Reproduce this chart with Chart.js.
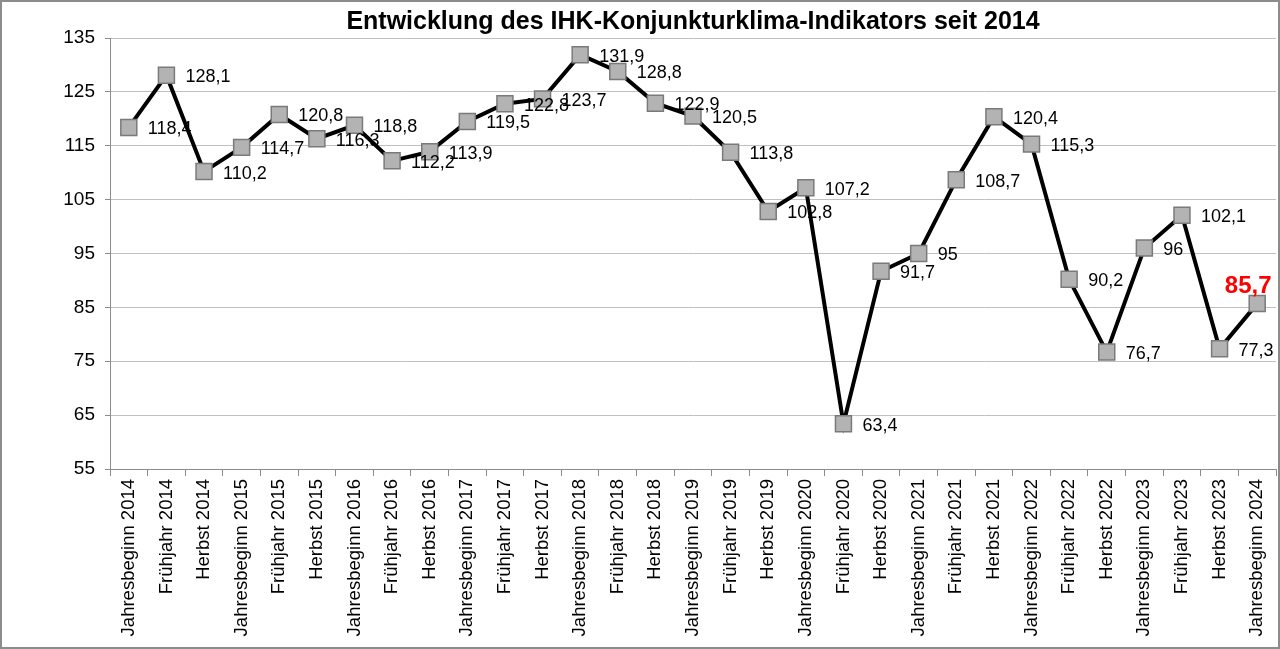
<!DOCTYPE html>
<html><head><meta charset="utf-8">
<script src="https://cdn.jsdelivr.net/npm/chart.js@4/dist/chart.umd.min.js"></script>
<style>html,body{margin:0;padding:0;background:#fff}#w{width:1280px;height:649px}</style>
</head><body><div id="w"><canvas id="c" width="1280" height="649"></canvas></div>
<script>
const title = 'Entwicklung des IHK-Konjunkturklima-Indikators seit 2014';
const categories = ['Jahresbeginn 2014','Frühjahr 2014','Herbst 2014','Jahresbeginn 2015','Frühjahr 2015','Herbst 2015','Jahresbeginn 2016','Frühjahr 2016','Herbst 2016','Jahresbeginn 2017','Frühjahr 2017','Herbst 2017','Jahresbeginn 2018','Frühjahr 2018','Herbst 2018','Jahresbeginn 2019','Frühjahr 2019','Herbst 2019','Jahresbeginn 2020','Frühjahr 2020','Herbst 2020','Jahresbeginn 2021','Frühjahr 2021','Herbst 2021','Jahresbeginn 2022','Frühjahr 2022','Herbst 2022','Jahresbeginn 2023','Frühjahr 2023','Herbst 2023','Jahresbeginn 2024'];
const values = [118.4,128.1,110.2,114.7,120.8,116.3,118.8,112.2,113.9,119.5,122.8,123.7,131.9,128.8,122.9,120.5,113.8,102.8,107.2,63.4,91.7,95,108.7,120.4,115.3,90.2,76.7,96,102.1,77.3,85.7];
const yMin = 55, yMax = 135, yStep = 10;

const fmt = v => String(v).replace('.', ',');

const labelPlugin = {
  id: 'labels',
  beforeDraw(chart) {
    const ctx = chart.ctx;
    ctx.save();
    ctx.fillStyle = '#fff';
    ctx.fillRect(0, 0, chart.width, chart.height);
    ctx.strokeStyle = '#8c8c8c';
    ctx.lineWidth = 2;
    ctx.strokeRect(1, 1, chart.width - 2, chart.height - 2);
    const ca = chart.chartArea;
    ctx.fillStyle = '#000';
    ctx.font = 'bold 25px "Liberation Sans", Arial, sans-serif';
    ctx.textAlign = 'center';
    ctx.textBaseline = 'middle';
    ctx.fillText(title, (ca.left + ca.right) / 2, 22);
    ctx.restore();
  },
  afterDatasetsDraw(chart) {
    const ctx = chart.ctx;
    const meta = chart.getDatasetMeta(0);
    ctx.save();
    meta.data.forEach((pt, i) => {
      const last = i === meta.data.length - 1;
      if (last) {
        ctx.font = 'bold 24px "Liberation Sans", Arial, sans-serif';
        ctx.fillStyle = '#ff0000';
        ctx.textAlign = 'center';
        ctx.textBaseline = 'middle';
        ctx.fillText(fmt(values[i]), pt.x - 9, pt.y - 17);
      } else {
        ctx.font = '18px "Liberation Sans", Arial, sans-serif';
        ctx.fillStyle = '#000';
        ctx.textAlign = 'left';
        ctx.textBaseline = 'middle';
        ctx.fillText(fmt(values[i]), pt.x + 19, pt.y + 2);
      }
    });
    ctx.restore();
  }
};

new Chart(document.getElementById('c'), {
  type: 'line',
  data: {
    labels: categories,
    datasets: [{
      data: values,
      borderColor: '#000',
      borderWidth: 4,
      tension: 0,
      pointStyle: 'rect',
      pointRadius: 11.3,
      pointBackgroundColor: '#b3b3b3',
      pointBorderColor: '#7a7a7a',
      pointBorderWidth: 1.5
    }]
  },
  options: {
    responsive: false,
    animation: false,
    events: [],
    layout: { autoPadding: false, padding: { top: 38, right: 4, left: 0, bottom: 0 } },
    plugins: { legend: { display: false }, title: { display: false }, tooltip: { enabled: false } },
    scales: {
      x: {
        offset: true,
        afterFit(s) { s.height = 180; s.paddingRight = 0; s.paddingLeft = 0; },
        grid: { offset: true, drawOnChartArea: false, color: '#8c8c8c', tickLength: 7, lineWidth: 1 },
        border: { color: '#8c8c8c', width: 1 },
        ticks: { autoSkip: false, minRotation: 90, maxRotation: 90, padding: 3, color: '#000', font: { family: '"Liberation Sans", Arial, sans-serif', size: 18.5 } }
      },
      y: {
        min: yMin, max: yMax,
        afterFit(s) { s.width = 110; },
        grid: { color: '#c0c0c0', lineWidth: 1, tickLength: 5, tickColor: '#8c8c8c' },
        border: { color: '#8c8c8c', width: 1 },
        ticks: { stepSize: yStep, padding: 10, color: '#000', font: { family: '"Liberation Sans", Arial, sans-serif', size: 19 } }
      }
    }
  },
  plugins: [labelPlugin]
});
</script>
</body></html>
